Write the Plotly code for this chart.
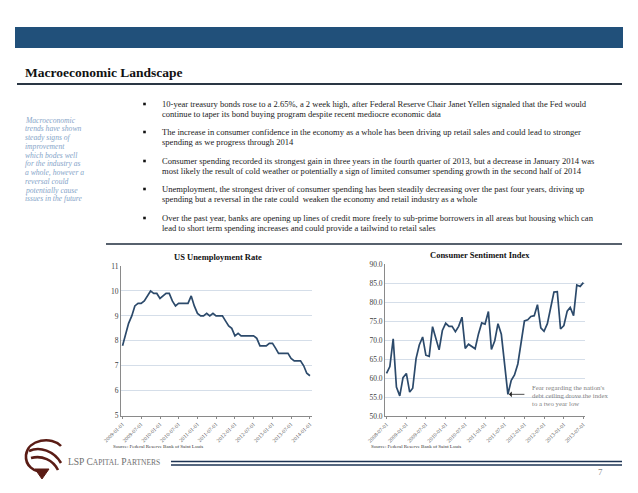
import pandas as pd
import plotly.graph_objects as go

W, H = 638, 493

# ---------------- data ----------------
unemp_start = "2009-01-01"
unemp_values = [
    7.8, 8.3, 8.7, 9.0, 9.4, 9.5, 9.5, 9.6, 9.8, 10.0, 9.9, 9.9,
    9.7, 9.8, 9.9, 9.9, 9.6, 9.4, 9.5, 9.5, 9.5, 9.5, 9.8, 9.4,
    9.1, 9.0, 9.0, 9.1, 9.0, 9.1, 9.0, 9.0, 9.0, 8.8, 8.6, 8.5,
    8.2, 8.3, 8.2, 8.2, 8.2, 8.2, 8.2, 8.1, 7.8, 7.8, 7.8, 7.9,
    7.9, 7.7, 7.5, 7.5, 7.5, 7.5, 7.3, 7.2, 7.2, 7.2, 7.0, 6.7,
    6.6,
]
sent_start = "2008-07-01"
sent_values = [
    61.2, 63.0, 70.3, 57.6, 55.3, 60.1,
    61.2, 56.3, 57.3, 65.1, 68.7, 70.8, 66.0, 65.7, 73.5, 70.6, 67.4, 72.5,
    74.4, 73.6, 73.6, 72.2, 73.6, 76.0, 67.8, 68.9, 68.2, 67.7, 71.6, 74.5,
    74.2, 77.5, 67.5, 69.8, 74.3, 71.5, 63.7, 55.7, 59.4, 60.8, 63.7, 69.9,
    75.0, 75.3, 76.2, 76.4, 79.3, 73.2, 72.3, 74.3, 78.3, 82.6, 82.7, 72.9,
    73.8, 77.6, 78.6, 76.4, 84.5, 84.1, 85.1,
]
unemp_dates = pd.date_range(unemp_start, periods=len(unemp_values), freq="MS")
sent_dates = pd.date_range(sent_start, periods=len(sent_values), freq="MS")
low_date = "2011-08-01"
low_value = 55.7

title = "Macroeconomic Landscape"
sidebar_lines = [
    "Macroeconomic", "trends have shown", "steady signs of", "improvement",
    "which bodes well", "for the industry as", "a whole, however a",
    "reversal could", "potentially cause", "issues in the future",
]
bullets = [
    ["10-year treasury bonds rose to a 2.65%, a 2 week high, after Federal Reserve Chair Janet Yellen signaled that the Fed would",
     "continue to taper its bond buying program despite recent mediocre economic data"],
    ["The increase in consumer confidence in the economy as a whole has been driving up retail sales and could lead to stronger",
     "spending as we progress through 2014"],
    ["Consumer spending recorded its strongest gain in three years in the fourth quarter of 2013, but a decrease in January 2014 was",
     "most likely the result of cold weather or potentially a sign of limited consumer spending growth in the second half of 2014"],
    ["Unemployment, the strongest driver of consumer spending has been steadily decreasing over the past four years, driving up",
     "spending but a reversal in the rate could  weaken the economy and retail industry as a whole"],
    ["Over the past year, banks are opening up lines of credit more freely to sub-prime borrowers in all areas but housing which can",
     "lead to short term spending increases and could provide a tailwind to retail sales"],
]
chart1_title = "US Unemployment Rate"
chart2_title = "Consumer Sentiment Index"
source_text = "Source: Federal Reserve Bank of Saint Louis"
note_lines = ["Fear regarding the nation's", "debt ceiling drove the index", "to a two year low"]
company = "LSP C<span style='font-size:7.5px'>APITAL</span> P<span style='font-size:7.5px'>ARTNERS</span>"
page_no = "7"

# ---------------- helpers ----------------
def X(px):
    return px / W

def Y(py):
    return 1 - py / H

SERIF = "Liberation Serif"
LINE = "#2c4a6b"
GRID = "#d5dee9"
AXIS = "#8a8a8a"
TXT = "#404040"

fig = go.Figure()
fig.add_trace(go.Scatter(x=unemp_dates, y=unemp_values, mode="lines",
                         line=dict(color=LINE, width=1.7), xaxis="x", yaxis="y",
                         showlegend=False))
fig.add_trace(go.Scatter(x=sent_dates, y=sent_values, mode="lines",
                         line=dict(color=LINE, width=1.7), xaxis="x2", yaxis="y2",
                         showlegend=False))

xcommon = dict(type="date", tickformat="%Y-%m-%d", dtick="M6", tickangle=-45,
               showgrid=False, showline=True, linecolor=AXIS, linewidth=1,
               ticks="outside", ticklen=2, tickcolor=AXIS, automargin=False,
               tickfont=dict(family=SERIF, size=5.5, color="#505050"), zeroline=False)
ycommon = dict(showgrid=True, gridcolor=GRID, gridwidth=1, showline=True,
               linecolor=AXIS, linewidth=1, ticks="", zeroline=False, automargin=False,
               tickfont=dict(family=SERIF, size=7.5, color=TXT))

fig.update_layout(
    template="none",
    width=W, height=H, margin=dict(l=0, r=0, t=0, b=0, pad=0), autosize=False,
    paper_bgcolor="white", plot_bgcolor="white",
    xaxis=dict(domain=[X(121), X(311.5)], anchor="y",
               range=["2008-12-17", "2014-01-16"], tick0=unemp_start, **xcommon),
    yaxis=dict(domain=[Y(415.7), Y(266)], anchor="x", range=[5, 11], dtick=1,
               **ycommon),
    xaxis2=dict(domain=[X(385), X(585)], anchor="y2",
                range=["2008-06-17", "2013-07-16"], tick0=sent_start, **xcommon),
    yaxis2=dict(domain=[Y(416), Y(264)], anchor="x2", range=[50, 90], dtick=5,
                tickformat=".1f", **ycommon),
)

shapes = []
annos = []

# top band
shapes.append(dict(type="rect", xref="paper", yref="paper", x0=X(15), x1=X(623),
                   y0=Y(48), y1=Y(27), fillcolor="#21507a", line=dict(width=0)))
# title + underline
annos.append(dict(text="<b>" + title + "</b>", x=X(23), y=Y(73), xref="paper", yref="paper",
                  xanchor="left", yanchor="middle", showarrow=False,
                  font=dict(family=SERIF, size=13.5, color="#111111")))
shapes.append(dict(type="line", xref="paper", yref="paper", x0=X(17), x1=X(622),
                   y0=Y(84), y1=Y(84), line=dict(color="#2a3644", width=2.2)))

# sidebar
for i, s in enumerate(sidebar_lines):
    annos.append(dict(text="<i>" + s + "</i>", x=X(23), y=Y(120 + i * 8.75), xref="paper",
                      yref="paper", xanchor="left", yanchor="middle", showarrow=False,
                      font=dict(family=SERIF, size=7.6, color="#86a5c9")))

# bullets
bullet_y = [104, 132, 161, 189, 218]
for by, lines in zip(bullet_y, bullets):
    shapes.append(dict(type="rect", xref="paper", yref="paper", x0=X(143.2), x1=X(145.8),
                       y0=Y(by + 1.3), y1=Y(by - 1.3),
                       fillcolor="#111111", line=dict(width=0)))
    for j, ln in enumerate(lines):
        annos.append(dict(text=ln, x=X(160), y=Y(by + j * 9.5), xref="paper", yref="paper",
                          xanchor="left", yanchor="middle", showarrow=False,
                          font=dict(family=SERIF, size=8.55, color="#1a1a1a")))

# separator under bullets
shapes.append(dict(type="line", xref="paper", yref="paper", x0=X(106), x1=X(622),
                   y0=Y(244), y1=Y(244), line=dict(color="#1f2d3d", width=1.5)))

# chart titles
annos.append(dict(text="<b>" + chart1_title + "</b>", x=X(218), y=Y(257), xref="paper",
                  yref="paper", xanchor="center", yanchor="middle", showarrow=False,
                  font=dict(family=SERIF, size=8.5, color="#111111")))
annos.append(dict(text="<b>" + chart2_title + "</b>", x=X(480), y=Y(255), xref="paper",
                  yref="paper", xanchor="center", yanchor="middle", showarrow=False,
                  font=dict(family=SERIF, size=8.5, color="#111111")))

# sources
for sx in (111, 369):
    annos.append(dict(text=source_text, x=X(sx), y=Y(446.5), xref="paper", yref="paper",
                      xanchor="left", yanchor="middle", showarrow=False,
                      font=dict(family=SERIF, size=5, color="#333333")))

# note annotation
annos.append(dict(x=low_date, y=low_value, xref="x2", yref="y2", text="", showarrow=True,
                  arrowhead=1, arrowsize=1.2, arrowwidth=0.8, arrowcolor="#222222",
                  ax=18, ay=0, standoff=1))
for i, s in enumerate(note_lines):
    annos.append(dict(text=s, x=X(530), y=Y(387 + i * 8), xref="paper", yref="paper",
                      xanchor="left", yanchor="middle", showarrow=False,
                      font=dict(family=SERIF, size=6.8, color="#7f7f7f")))

# footer double line
for fy in (461.5, 465):
    shapes.append(dict(type="line", xref="paper", yref="paper", x0=X(171), x1=X(622),
                       y0=Y(fy), y1=Y(fy), line=dict(color="#1e3454", width=1.4)))
annos.append(dict(text=page_no, x=X(600), y=Y(472), xref="paper", yref="paper",
                  xanchor="center", yanchor="middle", showarrow=False,
                  font=dict(family=SERIF, size=9, color="#7f7f7f")))
annos.append(dict(text=company, x=X(66), y=Y(462), xref="paper", yref="paper",
                  xanchor="left", yanchor="middle", showarrow=False,
                  font=dict(family=SERIF, size=9.5, color="#6e6e6e")))

# logo (approximate)
def path(cmds):
    out = []
    for c in cmds:
        op = c[0]
        pts = c[1:]
        out.append(op + " " + " ".join(f"{X(px):.5f},{Y(py):.5f}" for px, py in pts))
    return " ".join(out)

BROWN = "#5a1c15"
logo_paths = [
    [("M", (61, 446)), ("C", (52, 436), (28, 439), (26, 455)), ("C", (25, 466), (34, 472), (44, 472))],
    [("M", (29, 451)), ("C", (40, 446), (54, 451), (61, 463))],
    [("M", (31, 458)), ("C", (42, 455), (53, 460), (58, 470))],
]
for p in logo_paths:
    shapes.append(dict(type="path", xref="paper", yref="paper", path=path(p),
                       line=dict(color=BROWN, width=2.6)))
shapes.append(dict(type="path", xref="paper", yref="paper",
                   path=path([("M", (35, 469)), ("L", (49, 469)), ("L", (42, 479))]) + " Z",
                   fillcolor=BROWN, line=dict(color=BROWN, width=1)))

fig.update_layout(shapes=shapes, annotations=annos)
fig.write_html(
    "out.html",
    config={"displayModeBar": False},
    post_script="document.body.style.margin='0';document.body.style.overflow='hidden';",
)
